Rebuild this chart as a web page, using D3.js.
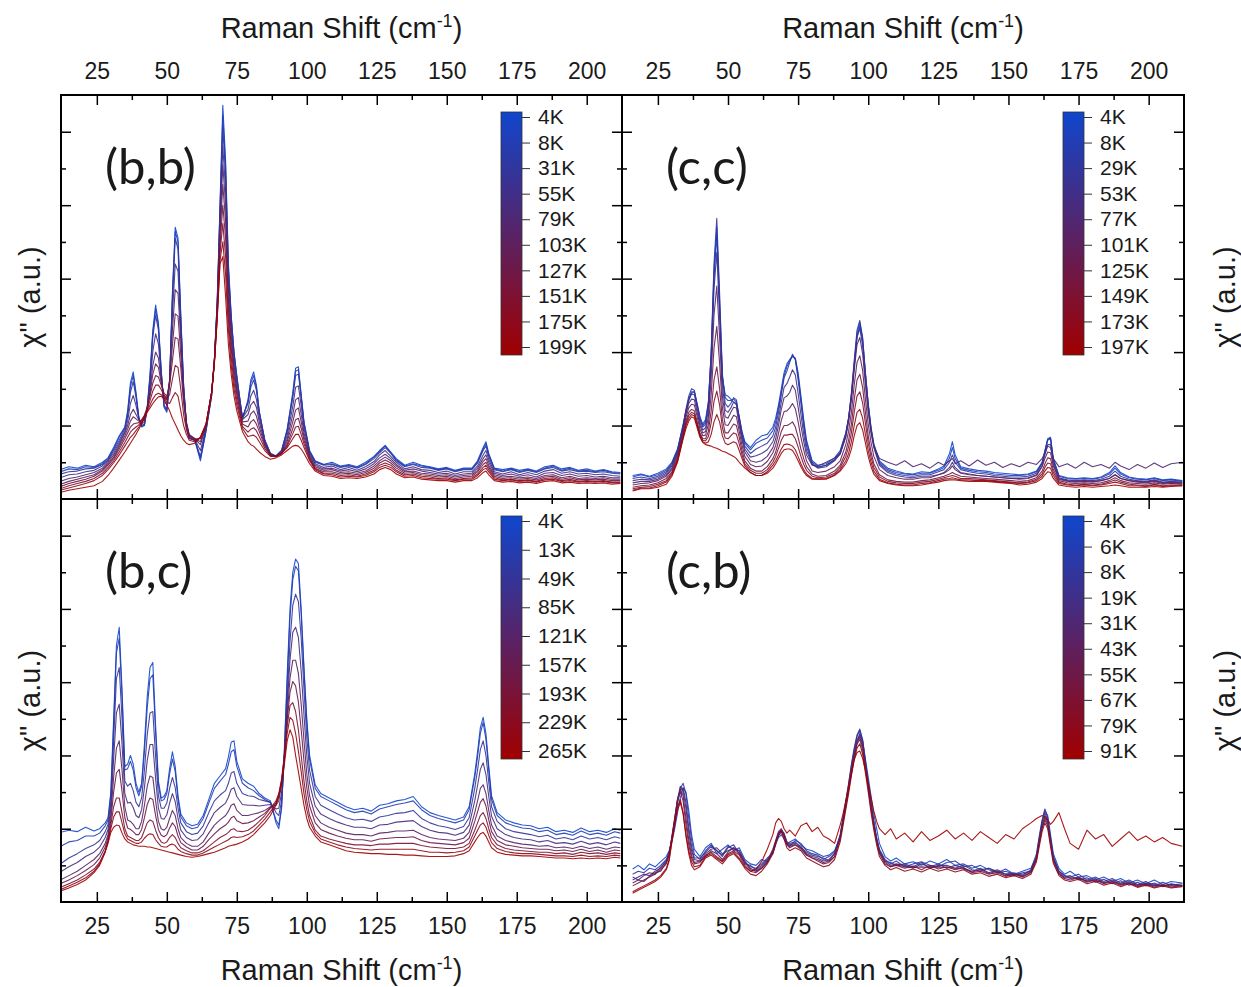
<!DOCTYPE html>
<html>
<head>
<meta charset="utf-8">
<script src="https://cdn.jsdelivr.net/npm/d3@7"></script>
<style>
  body { margin: 0; background: #fff; }
  text { font-family: "Liberation Sans", Arial, sans-serif; fill: #1a1a1a; }
</style>
</head>
<body>
<svg id="fig" width="1241" height="987"></svg>
<script>
// ---------- (b,b) spectra ----------
const shiftBB = [12,15,18,21,24,27,29,31,33,35,
  36,37,38,39,40,41,42,43,44,45,
  46,47,48,49,50,51,52,53,54,55,
  56,57,58,60,62,64,66,67,68,69,
  70,71,72,73,74,75,77,79,80,81,
  82,83,85,87,89,91,93,95,96,97,
  98,99,101,103,106,109,112,115,118,121,
  124,126,128,130,132,135,138,141,144,147,
  150,153,156,159,161,163,164,165,167,170,
  173,176,179,182,185,188,191,194,197,200,
  203,206,209,212];
const tempsBB = ["4K","8K","31K","55K","79K","103K","127K","151K","175K","199K"];
const legendBB = ["4K","8K","31K","55K","79K","103K","127K","151K","175K","199K"];
const bb4K = [0.40,0.44,0.42,0.46,0.44,0.50,0.56,0.70,0.86,0.98,
  1.20,1.58,1.73,1.45,1.12,0.98,1.00,1.25,1.70,2.30,
  2.64,2.40,1.75,1.25,1.18,1.60,2.80,3.70,3.55,2.50,
  1.55,1.00,0.82,0.80,0.52,0.92,1.40,1.90,2.70,4.00,
  5.36,4.60,3.20,2.50,2.00,1.68,1.08,1.35,1.62,1.73,
  1.55,1.20,0.80,0.62,0.58,0.66,0.95,1.45,1.78,1.80,
  1.42,1.05,0.66,0.52,0.47,0.50,0.45,0.47,0.44,0.50,
  0.58,0.66,0.73,0.64,0.55,0.46,0.50,0.46,0.44,0.41,
  0.43,0.39,0.42,0.42,0.52,0.70,0.78,0.62,0.42,0.40,
  0.42,0.39,0.41,0.38,0.44,0.46,0.41,0.43,0.39,0.41,
  0.38,0.40,0.37,0.36];
const bb8K = [0.37,0.41,0.40,0.44,0.43,0.48,0.55,0.68,0.84,0.97,
  1.17,1.53,1.68,1.42,1.10,0.99,1.01,1.24,1.67,2.26,
  2.58,2.36,1.74,1.27,1.20,1.60,2.76,3.64,3.50,2.46,
  1.54,1.01,0.83,0.80,0.55,0.93,1.41,1.89,2.68,3.96,
  5.22,4.52,3.15,2.48,1.99,1.67,1.10,1.33,1.58,1.68,
  1.52,1.19,0.80,0.62,0.58,0.66,0.94,1.42,1.74,1.76,
  1.40,1.04,0.65,0.51,0.47,0.48,0.44,0.46,0.43,0.48,
  0.57,0.65,0.72,0.63,0.53,0.45,0.48,0.45,0.43,0.40,
  0.42,0.38,0.41,0.41,0.50,0.68,0.75,0.60,0.41,0.38,
  0.41,0.37,0.40,0.37,0.42,0.45,0.39,0.42,0.38,0.39,
  0.37,0.39,0.36,0.35];
const bb31K = [0.34,0.37,0.38,0.41,0.42,0.47,0.53,0.66,0.80,0.95,
  1.12,1.45,1.60,1.38,1.10,1.00,1.02,1.22,1.62,2.20,
  2.50,2.30,1.72,1.28,1.22,1.62,2.70,3.55,3.40,2.40,
  1.52,1.02,0.84,0.80,0.58,0.95,1.42,1.88,2.65,3.90,
  5.05,4.40,3.10,2.45,1.98,1.65,1.12,1.30,1.52,1.62,
  1.48,1.18,0.80,0.62,0.59,0.66,0.92,1.38,1.68,1.70,
  1.38,1.02,0.64,0.50,0.46,0.47,0.43,0.45,0.42,0.47,
  0.55,0.63,0.70,0.62,0.52,0.44,0.47,0.43,0.42,0.39,
  0.41,0.37,0.40,0.40,0.49,0.66,0.72,0.58,0.40,0.37,
  0.40,0.36,0.39,0.36,0.41,0.43,0.38,0.40,0.37,0.38,
  0.36,0.37,0.35,0.34];
const bb55K = [0.29,0.33,0.34,0.37,0.39,0.45,0.52,0.63,0.77,0.92,
  1.06,1.30,1.41,1.27,1.09,1.02,1.05,1.22,1.55,2.01,
  2.25,2.11,1.67,1.33,1.28,1.62,2.50,3.20,3.10,2.28,
  1.48,1.04,0.86,0.81,0.66,0.96,1.43,1.89,2.62,3.80,
  4.80,4.20,2.98,2.35,1.90,1.58,1.10,1.22,1.40,1.48,
  1.36,1.11,0.78,0.61,0.58,0.64,0.87,1.26,1.52,1.54,
  1.27,0.96,0.62,0.48,0.43,0.45,0.40,0.43,0.39,0.44,
  0.51,0.60,0.66,0.58,0.50,0.41,0.44,0.40,0.39,0.36,
  0.38,0.34,0.37,0.37,0.45,0.60,0.66,0.54,0.37,0.34,
  0.37,0.33,0.36,0.33,0.38,0.40,0.35,0.37,0.34,0.35,
  0.33,0.34,0.32,0.31];
const bb79K = [0.24,0.28,0.30,0.33,0.36,0.42,0.50,0.60,0.74,0.90,
  1.00,1.15,1.22,1.15,1.08,1.05,1.08,1.22,1.48,1.82,
  2.00,1.92,1.62,1.38,1.35,1.62,2.30,2.85,2.80,2.15,
  1.45,1.05,0.88,0.82,0.74,0.98,1.45,1.90,2.60,3.70,
  4.55,4.00,2.85,2.25,1.82,1.52,1.08,1.15,1.28,1.33,
  1.25,1.05,0.76,0.60,0.58,0.63,0.82,1.15,1.35,1.38,
  1.15,0.90,0.60,0.46,0.41,0.42,0.38,0.40,0.37,0.41,
  0.48,0.56,0.61,0.55,0.47,0.39,0.41,0.38,0.36,0.34,
  0.35,0.32,0.34,0.35,0.42,0.55,0.60,0.50,0.35,0.32,
  0.34,0.31,0.33,0.30,0.35,0.36,0.32,0.34,0.31,0.32,
  0.30,0.31,0.29,0.29];
const bb103K = [0.20,0.24,0.27,0.30,0.33,0.40,0.48,0.57,0.71,0.86,
  0.95,1.06,1.12,1.09,1.06,1.06,1.11,1.23,1.44,1.70,
  1.84,1.79,1.58,1.41,1.37,1.58,2.09,2.52,2.49,1.96,
  1.38,1.02,0.87,0.82,0.78,0.99,1.45,1.89,2.58,3.58,
  4.28,3.78,2.72,2.15,1.75,1.47,1.05,1.06,1.16,1.20,
  1.13,0.98,0.74,0.60,0.58,0.62,0.78,1.05,1.21,1.24,
  1.05,0.85,0.58,0.44,0.39,0.40,0.36,0.37,0.35,0.38,
  0.45,0.52,0.57,0.52,0.45,0.37,0.38,0.35,0.34,0.32,
  0.33,0.30,0.32,0.33,0.39,0.51,0.55,0.46,0.33,0.30,
  0.31,0.29,0.30,0.28,0.32,0.33,0.29,0.31,0.28,0.29,
  0.28,0.29,0.27,0.27];
const bb127K = [0.17,0.21,0.24,0.27,0.31,0.38,0.46,0.55,0.68,0.82,
  0.90,0.98,1.02,1.03,1.04,1.08,1.14,1.25,1.40,1.58,
  1.68,1.66,1.55,1.44,1.40,1.55,1.88,2.20,2.18,1.78,
  1.30,1.00,0.86,0.82,0.82,1.00,1.45,1.88,2.55,3.45,
  4.00,3.55,2.60,2.05,1.68,1.42,1.02,0.98,1.05,1.08,
  1.02,0.92,0.72,0.60,0.58,0.62,0.74,0.96,1.08,1.10,
  0.96,0.80,0.56,0.42,0.37,0.37,0.34,0.35,0.33,0.36,
  0.42,0.49,0.53,0.49,0.42,0.35,0.36,0.33,0.32,0.30,
  0.31,0.28,0.30,0.31,0.37,0.47,0.50,0.43,0.31,0.28,
  0.29,0.27,0.28,0.26,0.30,0.31,0.27,0.29,0.26,0.27,
  0.26,0.27,0.25,0.25];
const bb151K = [0.14,0.18,0.21,0.24,0.28,0.35,0.43,0.52,0.64,0.77,
  0.84,0.91,0.95,0.98,1.01,1.06,1.13,1.22,1.34,1.47,
  1.55,1.55,1.49,1.41,1.36,1.42,1.63,1.82,1.79,1.49,
  1.15,0.94,0.83,0.80,0.83,1.01,1.45,1.86,2.50,3.35,
  3.75,3.30,2.45,1.93,1.59,1.35,0.99,0.91,0.95,0.97,
  0.93,0.85,0.69,0.59,0.58,0.62,0.72,0.89,0.98,0.99,
  0.88,0.75,0.54,0.41,0.35,0.35,0.32,0.33,0.31,0.34,
  0.39,0.46,0.49,0.46,0.39,0.33,0.34,0.31,0.30,0.28,
  0.29,0.26,0.28,0.29,0.34,0.43,0.46,0.40,0.29,0.26,
  0.27,0.25,0.26,0.24,0.28,0.29,0.25,0.27,0.24,0.25,
  0.24,0.25,0.23,0.23];
const bb175K = [0.12,0.15,0.18,0.21,0.25,0.32,0.40,0.49,0.60,0.72,
  0.78,0.84,0.88,0.93,0.98,1.04,1.12,1.20,1.28,1.36,
  1.42,1.44,1.42,1.38,1.32,1.30,1.38,1.45,1.40,1.20,
  1.00,0.88,0.80,0.78,0.84,1.02,1.45,1.85,2.45,3.25,
  3.50,3.05,2.30,1.82,1.50,1.28,0.96,0.85,0.86,0.87,
  0.84,0.78,0.66,0.58,0.58,0.62,0.70,0.82,0.88,0.88,
  0.80,0.70,0.52,0.40,0.34,0.33,0.30,0.31,0.30,0.32,
  0.37,0.43,0.46,0.43,0.37,0.31,0.32,0.29,0.28,0.27,
  0.27,0.25,0.27,0.27,0.32,0.40,0.42,0.37,0.27,0.25,
  0.26,0.24,0.25,0.23,0.26,0.27,0.24,0.25,0.23,0.24,
  0.23,0.24,0.22,0.22];
const bb199K = [0.09,0.12,0.14,0.16,0.18,0.24,0.32,0.42,0.53,0.64,
  0.70,0.76,0.82,0.88,0.95,1.02,1.10,1.18,1.24,1.30,
  1.35,1.39,1.40,1.36,1.28,1.20,1.10,1.02,0.94,0.86,
  0.80,0.76,0.74,0.76,0.84,1.02,1.45,1.85,2.45,3.20,
  3.30,2.75,2.10,1.70,1.40,1.20,0.92,0.78,0.74,0.72,
  0.68,0.64,0.58,0.54,0.56,0.60,0.66,0.72,0.73,0.72,
  0.68,0.62,0.48,0.38,0.32,0.31,0.28,0.29,0.28,0.30,
  0.34,0.40,0.43,0.40,0.34,0.29,0.30,0.27,0.26,0.25,
  0.25,0.23,0.25,0.25,0.29,0.36,0.38,0.33,0.25,0.23,
  0.24,0.22,0.23,0.21,0.24,0.25,0.22,0.23,0.21,0.22,
  0.21,0.22,0.20,0.21];

// ---------- (c,c) spectra ----------
const shiftCC = [16,19,22,25,28,30,32,34,35,36,
  37,38,39,40,41,42,43,44,45,46,
  47,48,49,50,51,52,53,54,55,56,
  58,60,62,64,66,67,68,69,70,71,
  72,73,74,75,76,77,78,80,82,85,
  88,90,92,93,94,95,96,97,98,99,
  100,101,102,104,107,110,113,116,119,122,
  125,127,129,130,131,133,136,139,142,145,
  148,151,154,157,160,162,163,164,165,166,
  168,171,174,177,180,183,186,188,190,193,
  196,199,202,205,208,212];
const tempsCC = ["4K","8K","29K","53K","77K","101K","125K","149K","173K","197K"];
const legendCC = ["4K","8K","29K","53K","77K","101K","125K","149K","173K","197K"];
const cc4K = [0.32,0.34,0.31,0.35,0.41,0.50,0.68,1.02,1.20,1.34,
  1.44,1.46,1.30,1.12,1.02,1.08,1.32,1.95,3.00,3.60,
  2.60,1.65,1.42,1.40,1.36,1.32,1.28,1.12,0.92,0.78,
  0.70,0.80,0.86,0.88,0.98,1.10,1.28,1.50,1.72,1.84,
  1.90,1.94,1.92,1.72,1.40,1.08,0.80,0.52,0.46,0.48,
  0.56,0.66,0.90,1.10,1.40,1.80,2.20,2.36,2.15,1.70,
  1.30,0.98,0.75,0.52,0.42,0.38,0.35,0.34,0.37,0.36,
  0.41,0.45,0.62,0.78,0.60,0.44,0.41,0.39,0.38,0.36,
  0.35,0.34,0.33,0.34,0.38,0.50,0.66,0.82,0.84,0.55,
  0.32,0.29,0.28,0.29,0.28,0.30,0.36,0.45,0.36,0.30,
  0.28,0.27,0.29,0.26,0.27,0.25];
const cc8K = [0.30,0.33,0.30,0.33,0.39,0.49,0.67,1.00,1.20,1.36,
  1.46,1.46,1.28,1.10,1.00,1.05,1.30,1.98,3.10,3.70,
  2.70,1.68,1.38,1.34,1.34,1.36,1.32,1.12,0.90,0.76,
  0.67,0.76,0.80,0.83,0.93,1.05,1.24,1.46,1.68,1.80,
  1.88,1.95,1.90,1.68,1.36,1.04,0.77,0.50,0.44,0.46,
  0.54,0.64,0.89,1.10,1.42,1.84,2.25,2.40,2.18,1.70,
  1.29,0.96,0.74,0.50,0.40,0.36,0.34,0.33,0.35,0.35,
  0.39,0.43,0.56,0.70,0.55,0.42,0.39,0.37,0.36,0.34,
  0.33,0.32,0.32,0.33,0.37,0.49,0.65,0.81,0.83,0.54,
  0.31,0.28,0.27,0.28,0.27,0.29,0.34,0.42,0.34,0.29,
  0.27,0.26,0.28,0.25,0.26,0.24];
const cc29K = [0.28,0.30,0.28,0.31,0.37,0.47,0.66,1.00,1.22,1.40,
  1.50,1.48,1.28,1.08,0.98,1.02,1.30,2.00,3.20,3.82,
  2.80,1.70,1.30,1.25,1.30,1.38,1.35,1.10,0.88,0.72,
  0.62,0.68,0.72,0.76,0.86,0.98,1.18,1.42,1.65,1.74,
  1.86,1.97,1.90,1.62,1.30,0.98,0.72,0.48,0.42,0.44,
  0.52,0.62,0.88,1.10,1.45,1.88,2.30,2.43,2.20,1.72,
  1.28,0.95,0.72,0.48,0.38,0.34,0.32,0.31,0.33,0.33,
  0.37,0.40,0.50,0.60,0.50,0.40,0.37,0.35,0.34,0.32,
  0.31,0.30,0.30,0.31,0.35,0.48,0.64,0.80,0.82,0.52,
  0.29,0.26,0.25,0.26,0.25,0.27,0.31,0.38,0.31,0.27,
  0.25,0.24,0.26,0.23,0.24,0.23];
const cc53K = [0.25,0.27,0.26,0.29,0.35,0.45,0.64,0.98,1.19,1.35,
  1.43,1.42,1.23,1.04,0.94,0.97,1.21,1.82,2.85,3.36,
  2.50,1.55,1.21,1.18,1.24,1.32,1.30,1.05,0.84,0.68,
  0.57,0.59,0.62,0.67,0.78,0.90,1.09,1.32,1.52,1.57,
  1.66,1.76,1.69,1.44,1.15,0.88,0.66,0.47,0.43,0.46,
  0.53,0.61,0.86,1.08,1.40,1.82,2.20,2.32,2.09,1.64,
  1.23,0.93,0.70,0.46,0.36,0.32,0.30,0.29,0.31,0.31,
  0.33,0.36,0.43,0.50,0.43,0.36,0.34,0.32,0.31,0.30,
  0.29,0.28,0.28,0.29,0.33,0.45,0.60,0.74,0.74,0.48,
  0.27,0.24,0.23,0.24,0.23,0.25,0.28,0.33,0.28,0.25,
  0.23,0.22,0.24,0.21,0.22,0.21];
const cc77K = [0.22,0.24,0.24,0.27,0.33,0.42,0.62,0.95,1.15,1.30,
  1.36,1.35,1.18,1.00,0.90,0.92,1.12,1.65,2.50,2.90,
  2.20,1.40,1.12,1.10,1.18,1.25,1.24,1.00,0.80,0.64,
  0.52,0.50,0.52,0.58,0.70,0.82,1.00,1.22,1.38,1.40,
  1.45,1.55,1.48,1.25,1.00,0.78,0.60,0.46,0.45,0.50,
  0.56,0.62,0.84,1.05,1.35,1.75,2.10,2.20,1.98,1.55,
  1.18,0.90,0.72,0.55,0.50,0.46,0.52,0.44,0.48,0.42,
  0.50,0.46,0.52,0.55,0.48,0.52,0.45,0.53,0.46,0.50,
  0.43,0.48,0.44,0.50,0.47,0.55,0.62,0.72,0.70,0.55,
  0.44,0.48,0.42,0.50,0.44,0.47,0.42,0.50,0.45,0.40,
  0.47,0.42,0.49,0.43,0.48,0.50];
const cc101K = [0.19,0.21,0.22,0.25,0.31,0.40,0.59,0.92,1.11,1.24,
  1.29,1.28,1.12,0.95,0.86,0.87,1.02,1.42,2.05,2.35,
  1.85,1.24,1.01,1.00,1.07,1.14,1.12,0.92,0.73,0.58,
  0.47,0.44,0.45,0.51,0.63,0.73,0.89,1.07,1.19,1.20,
  1.24,1.30,1.23,1.05,0.84,0.67,0.52,0.38,0.36,0.38,
  0.44,0.52,0.74,0.92,1.18,1.55,1.86,1.95,1.75,1.36,
  1.02,0.77,0.58,0.40,0.32,0.29,0.27,0.27,0.29,0.29,
  0.33,0.35,0.40,0.45,0.40,0.35,0.33,0.32,0.31,0.30,
  0.29,0.28,0.27,0.28,0.32,0.44,0.55,0.64,0.63,0.45,
  0.28,0.25,0.24,0.25,0.24,0.25,0.28,0.33,0.28,0.25,
  0.24,0.23,0.25,0.22,0.23,0.22];
const cc125K = [0.16,0.18,0.19,0.22,0.28,0.37,0.56,0.88,1.06,1.18,
  1.22,1.20,1.05,0.90,0.82,0.82,0.92,1.20,1.62,1.80,
  1.50,1.08,0.90,0.90,0.96,1.02,1.00,0.84,0.66,0.52,
  0.42,0.38,0.38,0.44,0.55,0.64,0.78,0.92,1.00,1.00,
  1.02,1.05,0.98,0.84,0.68,0.55,0.44,0.34,0.31,0.32,
  0.38,0.46,0.64,0.80,1.02,1.35,1.62,1.70,1.52,1.18,
  0.86,0.64,0.48,0.33,0.26,0.24,0.23,0.23,0.25,0.26,
  0.29,0.31,0.34,0.36,0.34,0.31,0.30,0.29,0.28,0.27,
  0.26,0.25,0.24,0.25,0.29,0.38,0.48,0.56,0.55,0.40,
  0.25,0.22,0.21,0.22,0.21,0.22,0.25,0.29,0.25,0.22,
  0.21,0.20,0.22,0.20,0.21,0.20];
const cc149K = [0.14,0.16,0.17,0.20,0.25,0.35,0.54,0.86,1.03,1.14,
  1.18,1.16,1.02,0.88,0.80,0.79,0.85,1.04,1.33,1.47,
  1.28,0.97,0.83,0.82,0.86,0.90,0.88,0.75,0.60,0.48,
  0.39,0.35,0.35,0.40,0.50,0.58,0.69,0.80,0.87,0.87,
  0.88,0.88,0.82,0.71,0.58,0.47,0.39,0.31,0.29,0.30,
  0.35,0.43,0.58,0.71,0.90,1.18,1.40,1.46,1.31,1.03,
  0.76,0.57,0.43,0.30,0.24,0.22,0.21,0.21,0.23,0.24,
  0.27,0.29,0.31,0.32,0.31,0.28,0.28,0.27,0.26,0.25,
  0.24,0.23,0.22,0.23,0.27,0.34,0.43,0.49,0.48,0.36,
  0.23,0.20,0.19,0.20,0.19,0.20,0.23,0.26,0.23,0.20,
  0.19,0.18,0.20,0.18,0.19,0.19];
const cc173K = [0.12,0.15,0.15,0.18,0.23,0.33,0.52,0.84,1.00,1.10,
  1.15,1.13,1.00,0.86,0.78,0.76,0.78,0.88,1.05,1.15,
  1.05,0.86,0.76,0.74,0.76,0.78,0.76,0.66,0.55,0.45,
  0.36,0.32,0.32,0.37,0.46,0.52,0.60,0.68,0.74,0.75,
  0.74,0.72,0.67,0.58,0.48,0.40,0.34,0.28,0.27,0.28,
  0.33,0.40,0.52,0.62,0.78,1.00,1.18,1.22,1.10,0.88,
  0.66,0.50,0.38,0.27,0.22,0.20,0.19,0.19,0.21,0.22,
  0.25,0.27,0.28,0.29,0.28,0.26,0.26,0.25,0.25,0.24,
  0.23,0.22,0.21,0.22,0.25,0.31,0.38,0.43,0.42,0.32,
  0.21,0.19,0.18,0.19,0.18,0.19,0.21,0.23,0.21,0.18,
  0.18,0.17,0.19,0.17,0.18,0.18];
const cc197K = [0.11,0.14,0.14,0.16,0.20,0.31,0.50,0.82,0.96,1.06,
  1.12,1.10,0.97,0.84,0.77,0.74,0.73,0.72,0.70,0.69,
  0.67,0.65,0.64,0.62,0.60,0.58,0.55,0.50,0.46,0.42,
  0.36,0.32,0.32,0.35,0.42,0.48,0.55,0.62,0.67,0.68,
  0.68,0.66,0.60,0.52,0.44,0.37,0.32,0.27,0.27,0.27,
  0.32,0.38,0.48,0.56,0.68,0.86,1.00,1.04,0.94,0.76,
  0.58,0.44,0.34,0.25,0.21,0.19,0.18,0.18,0.19,0.21,
  0.23,0.25,0.26,0.26,0.26,0.25,0.24,0.24,0.24,0.23,
  0.22,0.21,0.19,0.20,0.23,0.28,0.33,0.37,0.36,0.28,
  0.19,0.17,0.16,0.17,0.16,0.17,0.18,0.19,0.18,0.16,
  0.16,0.16,0.17,0.16,0.17,0.18];

// ---------- (b,c) spectra ----------
const shiftBC = [12,15,18,21,24,26,28,29,30,31,
  32,33,34,35,36,37,38,39,40,41,
  42,43,44,45,46,47,48,49,50,51,
  52,53,54,55,57,59,61,63,65,67,
  69,71,72,73,74,75,77,79,81,83,
  85,87,89,90,91,92,93,94,95,96,
  97,98,99,100,101,103,105,108,111,114,
  117,120,123,126,129,132,135,138,141,144,
  147,150,153,156,158,160,161,162,163,164,
  165,166,168,171,174,177,180,183,186,189,
  192,195,198,201,204,207,210,212];
const tempsBC = ["4K","13K","49K","85K","121K","157K","193K","229K","265K"];
const legendBC = ["4K","13K","49K","85K","121K","157K","193K","229K","265K"];
const bc4K = [0.95,0.98,0.96,1.02,0.97,1.00,1.08,1.15,1.50,2.50,
  3.50,3.75,2.90,1.85,1.88,2.00,1.88,1.62,1.50,1.62,
  2.15,2.80,3.20,3.27,2.40,1.65,1.42,1.44,1.52,1.82,
  2.05,1.85,1.45,1.20,1.08,1.04,1.06,1.18,1.40,1.62,
  1.72,1.82,1.98,2.18,2.20,1.92,1.68,1.62,1.58,1.48,
  1.42,1.38,1.08,1.00,1.28,2.10,3.10,4.00,4.50,4.68,
  4.62,4.00,3.20,2.50,2.00,1.60,1.48,1.42,1.36,1.30,
  1.26,1.28,1.24,1.32,1.34,1.38,1.40,1.44,1.30,1.22,
  1.18,1.15,1.12,1.16,1.30,1.75,2.05,2.38,2.52,2.30,
  1.86,1.45,1.22,1.12,1.08,1.05,1.04,1.00,1.02,0.96,
  0.98,0.95,1.01,0.96,0.98,0.95,1.00,0.98];
const bc13K = [0.76,0.82,0.84,0.90,0.90,0.94,1.04,1.12,1.45,2.40,
  3.40,3.60,2.80,1.80,1.82,1.92,1.80,1.56,1.45,1.58,
  2.05,2.65,3.05,3.10,2.30,1.60,1.38,1.40,1.48,1.75,
  1.95,1.78,1.40,1.16,1.04,1.00,1.02,1.14,1.35,1.55,
  1.65,1.74,1.88,2.05,2.08,1.85,1.62,1.56,1.52,1.45,
  1.40,1.36,1.12,1.05,1.30,2.05,3.00,3.88,4.40,4.58,
  4.52,3.92,3.15,2.45,1.95,1.55,1.44,1.38,1.32,1.26,
  1.22,1.24,1.20,1.27,1.30,1.33,1.35,1.38,1.26,1.18,
  1.14,1.11,1.08,1.12,1.26,1.70,1.98,2.30,2.45,2.22,
  1.80,1.40,1.18,1.08,1.04,1.01,1.00,0.96,0.98,0.92,
  0.94,0.91,0.97,0.92,0.94,0.91,0.96,0.94];
const bc49K = [0.52,0.60,0.66,0.73,0.78,0.84,0.96,1.06,1.36,2.20,
  3.05,3.20,2.50,1.65,1.58,1.62,1.52,1.36,1.30,1.42,
  1.80,2.28,2.58,2.60,1.98,1.45,1.28,1.28,1.35,1.55,
  1.70,1.56,1.28,1.08,0.96,0.92,0.94,1.04,1.22,1.38,
  1.46,1.52,1.62,1.76,1.78,1.62,1.48,1.45,1.44,1.40,
  1.38,1.36,1.22,1.18,1.38,1.95,2.78,3.55,4.05,4.20,
  4.10,3.60,2.90,2.25,1.80,1.44,1.32,1.26,1.20,1.15,
  1.12,1.13,1.10,1.16,1.18,1.21,1.22,1.25,1.14,1.08,
  1.04,1.02,0.99,1.03,1.15,1.55,1.80,2.08,2.20,2.00,
  1.64,1.30,1.10,1.00,0.96,0.94,0.92,0.89,0.91,0.86,
  0.88,0.85,0.90,0.86,0.88,0.85,0.89,0.87];
const bc85K = [0.41,0.48,0.54,0.62,0.68,0.75,0.88,0.99,1.28,1.95,
  2.58,2.70,2.15,1.48,1.35,1.36,1.29,1.18,1.15,1.26,
  1.56,1.93,2.15,2.15,1.68,1.28,1.14,1.13,1.19,1.35,
  1.48,1.37,1.14,0.98,0.88,0.84,0.85,0.93,1.08,1.22,
  1.29,1.35,1.43,1.54,1.56,1.44,1.33,1.32,1.32,1.31,
  1.32,1.33,1.27,1.28,1.49,1.98,2.67,3.30,3.68,3.75,
  3.61,3.15,2.55,2.00,1.62,1.31,1.20,1.14,1.09,1.05,
  1.02,1.02,1.00,1.05,1.06,1.09,1.10,1.11,1.03,0.98,
  0.95,0.94,0.91,0.95,1.05,1.38,1.59,1.81,1.90,1.74,
  1.44,1.17,1.00,0.92,0.88,0.86,0.85,0.82,0.84,0.80,
  0.81,0.79,0.83,0.79,0.81,0.78,0.82,0.80];
const bc121K = [0.30,0.36,0.42,0.50,0.58,0.66,0.80,0.92,1.20,1.70,
  2.10,2.20,1.80,1.30,1.12,1.10,1.06,1.00,1.00,1.10,
  1.32,1.58,1.72,1.70,1.38,1.10,1.00,0.98,1.02,1.14,
  1.25,1.18,1.00,0.88,0.80,0.76,0.76,0.82,0.94,1.05,
  1.12,1.18,1.24,1.32,1.34,1.25,1.18,1.18,1.20,1.22,
  1.25,1.30,1.32,1.38,1.60,2.00,2.55,3.05,3.30,3.30,
  3.12,2.70,2.20,1.75,1.45,1.18,1.08,1.02,0.98,0.94,
  0.92,0.92,0.90,0.94,0.95,0.97,0.97,0.98,0.92,0.88,
  0.86,0.85,0.84,0.87,0.95,1.22,1.38,1.55,1.60,1.48,
  1.25,1.05,0.90,0.84,0.81,0.79,0.78,0.76,0.77,0.74,
  0.75,0.73,0.76,0.73,0.75,0.72,0.75,0.74];
const bc157K = [0.25,0.30,0.36,0.43,0.51,0.60,0.75,0.88,1.12,1.50,
  1.76,1.81,1.51,1.15,1.01,0.99,0.96,0.92,0.92,0.99,
  1.15,1.33,1.42,1.40,1.18,0.99,0.91,0.89,0.92,1.01,
  1.08,1.03,0.90,0.81,0.75,0.71,0.71,0.76,0.85,0.93,
  1.00,1.05,1.09,1.15,1.17,1.11,1.07,1.08,1.11,1.16,
  1.21,1.29,1.35,1.43,1.64,2.00,2.48,2.86,3.01,2.95,
  2.73,2.35,1.92,1.56,1.31,1.08,0.99,0.94,0.90,0.87,
  0.85,0.85,0.83,0.86,0.87,0.88,0.88,0.89,0.84,0.81,
  0.80,0.79,0.78,0.81,0.87,1.10,1.23,1.36,1.41,1.31,
  1.12,0.96,0.84,0.78,0.76,0.74,0.73,0.72,0.72,0.70,
  0.71,0.69,0.72,0.69,0.71,0.68,0.71,0.70];
const bc193K = [0.20,0.25,0.30,0.37,0.45,0.54,0.70,0.84,1.05,1.30,
  1.42,1.42,1.22,1.00,0.90,0.88,0.86,0.84,0.84,0.88,
  0.98,1.08,1.12,1.10,0.98,0.88,0.82,0.80,0.82,0.88,
  0.92,0.88,0.80,0.74,0.70,0.67,0.67,0.70,0.76,0.82,
  0.88,0.92,0.95,0.99,1.00,0.97,0.96,0.98,1.03,1.10,
  1.18,1.28,1.38,1.48,1.68,2.00,2.40,2.68,2.72,2.60,
  2.35,2.00,1.65,1.38,1.18,0.98,0.90,0.86,0.83,0.80,
  0.78,0.78,0.77,0.79,0.79,0.80,0.80,0.80,0.77,0.75,
  0.74,0.73,0.73,0.75,0.80,0.98,1.08,1.18,1.22,1.14,
  1.00,0.88,0.78,0.73,0.71,0.70,0.69,0.68,0.68,0.66,
  0.67,0.65,0.68,0.66,0.67,0.65,0.67,0.66];
const bc229K = [0.17,0.22,0.27,0.33,0.42,0.52,0.69,0.82,1.00,1.16,
  1.23,1.23,1.08,0.93,0.86,0.84,0.82,0.80,0.80,0.82,
  0.87,0.91,0.93,0.92,0.85,0.80,0.76,0.75,0.75,0.78,
  0.79,0.77,0.72,0.69,0.66,0.64,0.64,0.67,0.71,0.75,
  0.79,0.83,0.85,0.88,0.89,0.88,0.89,0.92,0.97,1.05,
  1.13,1.23,1.35,1.46,1.65,1.94,2.30,2.52,2.48,2.30,
  2.06,1.78,1.48,1.26,1.10,0.94,0.86,0.82,0.78,0.75,
  0.73,0.72,0.71,0.72,0.72,0.72,0.72,0.72,0.70,0.68,
  0.68,0.67,0.68,0.70,0.75,0.90,0.98,1.05,1.08,1.02,
  0.91,0.81,0.73,0.69,0.67,0.66,0.66,0.65,0.64,0.63,
  0.63,0.62,0.64,0.62,0.63,0.62,0.64,0.63];
const bc265K = [0.15,0.19,0.24,0.30,0.40,0.50,0.68,0.80,0.95,1.02,
  1.05,1.04,0.94,0.86,0.82,0.80,0.78,0.77,0.76,0.76,
  0.76,0.75,0.75,0.74,0.73,0.72,0.71,0.70,0.69,0.68,
  0.67,0.66,0.65,0.64,0.62,0.61,0.62,0.64,0.66,0.68,
  0.71,0.74,0.76,0.77,0.78,0.79,0.82,0.86,0.92,1.00,
  1.08,1.18,1.32,1.45,1.62,1.88,2.20,2.35,2.25,2.00,
  1.78,1.55,1.32,1.14,1.02,0.90,0.82,0.78,0.74,0.70,
  0.68,0.67,0.66,0.66,0.65,0.65,0.64,0.64,0.63,0.62,
  0.62,0.62,0.63,0.66,0.70,0.82,0.88,0.93,0.95,0.90,
  0.82,0.74,0.68,0.65,0.64,0.63,0.63,0.62,0.61,0.60,
  0.60,0.59,0.60,0.59,0.60,0.59,0.61,0.60];

// ---------- (c,b) spectra ----------
const shiftCB = [16,18,20,22,24,26,28,29,30,31,
  32,33,34,35,36,37,38,40,42,44,
  46,48,50,52,54,56,58,60,62,64,
  66,67,68,69,70,71,72,74,76,78,
  80,82,84,86,88,90,91,92,93,94,
  95,96,97,98,99,100,101,102,103,104,
  106,108,110,113,116,119,122,125,128,131,
  134,137,140,143,146,149,152,155,158,160,
  161,162,163,164,165,166,168,170,172,175,
  178,181,184,187,190,193,196,199,202,205,
  208,212];
const tempsCB = ["4K","8K","19K","31K","43K","55K","79K","91K"];
const legendCB = ["4K","6K","8K","19K","31K","43K","55K","67K","79K","91K"];
const cb4K = [0.45,0.50,0.44,0.52,0.48,0.55,0.62,0.70,0.82,1.00,
  1.22,1.42,1.55,1.50,1.25,0.92,0.72,0.62,0.74,0.80,
  0.66,0.72,0.78,0.70,0.74,0.58,0.52,0.50,0.58,0.55,
  0.70,0.80,0.88,0.92,0.86,0.78,0.82,0.86,0.78,0.72,
  0.70,0.66,0.62,0.64,0.70,0.88,1.10,1.30,1.55,1.80,
  2.00,2.18,2.30,2.20,1.95,1.70,1.45,1.20,1.00,0.80,
  0.62,0.56,0.60,0.52,0.55,0.50,0.56,0.52,0.58,0.50,
  0.52,0.46,0.50,0.44,0.40,0.45,0.38,0.42,0.46,0.62,
  0.85,1.08,1.25,1.18,0.92,0.66,0.46,0.38,0.42,0.34,
  0.36,0.30,0.34,0.28,0.32,0.26,0.30,0.25,0.30,0.24,
  0.28,0.26];
const cb8K = [0.38,0.42,0.40,0.46,0.44,0.50,0.58,0.68,0.86,1.10,
  1.35,1.55,1.62,1.48,1.15,0.85,0.65,0.58,0.70,0.78,
  0.70,0.62,0.74,0.78,0.66,0.54,0.48,0.46,0.52,0.60,
  0.66,0.78,0.90,0.96,0.90,0.80,0.76,0.84,0.80,0.70,
  0.66,0.64,0.58,0.62,0.68,0.92,1.15,1.38,1.62,1.88,
  2.10,2.28,2.36,2.22,1.92,1.62,1.35,1.10,0.88,0.72,
  0.58,0.52,0.56,0.48,0.52,0.55,0.50,0.48,0.54,0.56,
  0.48,0.50,0.44,0.46,0.42,0.38,0.40,0.36,0.44,0.66,
  0.90,1.12,1.27,1.15,0.88,0.62,0.42,0.36,0.34,0.38,
  0.30,0.34,0.28,0.32,0.26,0.30,0.24,0.28,0.22,0.27,
  0.23,0.25];
const cb19K = [0.34,0.30,0.36,0.40,0.38,0.48,0.56,0.66,0.86,1.08,
  1.36,1.52,1.56,1.36,1.02,0.76,0.60,0.60,0.68,0.76,
  0.70,0.64,0.76,0.72,0.70,0.52,0.50,0.44,0.50,0.58,
  0.68,0.80,0.92,0.98,0.94,0.82,0.80,0.82,0.74,0.68,
  0.64,0.62,0.60,0.56,0.66,0.90,1.14,1.36,1.60,1.86,
  2.08,2.26,2.34,2.20,1.90,1.62,1.34,1.08,0.86,0.70,
  0.56,0.54,0.50,0.52,0.48,0.54,0.46,0.50,0.50,0.46,
  0.50,0.44,0.42,0.46,0.40,0.42,0.38,0.38,0.42,0.62,
  0.88,1.10,1.22,1.12,0.86,0.60,0.42,0.36,0.32,0.34,
  0.28,0.32,0.26,0.30,0.24,0.28,0.23,0.26,0.24,0.22,
  0.24,0.22];
const cb31K = [0.30,0.34,0.38,0.36,0.42,0.46,0.55,0.66,0.88,1.12,
  1.40,1.58,1.52,1.28,0.95,0.70,0.58,0.56,0.66,0.72,
  0.74,0.66,0.70,0.74,0.70,0.56,0.46,0.42,0.48,0.56,
  0.72,0.84,0.96,1.00,0.92,0.82,0.78,0.80,0.76,0.66,
  0.62,0.60,0.56,0.58,0.66,0.90,1.12,1.35,1.58,1.82,
  2.04,2.22,2.28,2.15,1.88,1.60,1.34,1.08,0.86,0.70,
  0.56,0.50,0.52,0.50,0.46,0.52,0.48,0.52,0.46,0.50,
  0.46,0.42,0.46,0.40,0.44,0.38,0.36,0.40,0.42,0.60,
  0.84,1.05,1.18,1.10,0.85,0.60,0.40,0.34,0.36,0.30,
  0.33,0.27,0.31,0.25,0.29,0.23,0.27,0.22,0.26,0.21,
  0.25,0.22];
const cb43K = [0.26,0.30,0.28,0.35,0.40,0.42,0.54,0.64,0.88,1.14,
  1.40,1.54,1.45,1.15,0.85,0.64,0.54,0.56,0.62,0.70,
  0.66,0.58,0.68,0.74,0.66,0.54,0.44,0.42,0.46,0.54,
  0.70,0.82,0.94,0.98,0.92,0.80,0.76,0.78,0.74,0.64,
  0.60,0.58,0.54,0.56,0.62,0.88,1.10,1.32,1.55,1.78,
  2.00,2.18,2.25,2.12,1.85,1.58,1.30,1.05,0.84,0.68,
  0.54,0.48,0.51,0.48,0.47,0.48,0.47,0.48,0.47,0.46,
  0.45,0.41,0.44,0.39,0.42,0.36,0.38,0.35,0.41,0.59,
  0.82,1.02,1.15,1.07,0.82,0.58,0.39,0.33,0.33,0.32,
  0.29,0.29,0.27,0.27,0.25,0.25,0.23,0.24,0.22,0.23,
  0.22,0.22];
const cb55K = [0.22,0.26,0.30,0.34,0.38,0.44,0.52,0.64,0.90,1.15,
  1.40,1.50,1.38,1.05,0.78,0.60,0.52,0.54,0.64,0.68,
  0.62,0.56,0.66,0.70,0.64,0.50,0.42,0.40,0.46,0.54,
  0.68,0.82,0.94,0.98,0.90,0.78,0.74,0.78,0.72,0.64,
  0.60,0.56,0.52,0.54,0.62,0.86,1.08,1.30,1.52,1.75,
  1.98,2.15,2.22,2.08,1.82,1.55,1.28,1.02,0.82,0.66,
  0.52,0.48,0.50,0.46,0.49,0.44,0.50,0.45,0.48,0.44,
  0.47,0.40,0.42,0.38,0.40,0.35,0.38,0.34,0.40,0.58,
  0.80,1.00,1.12,1.04,0.80,0.56,0.38,0.32,0.30,0.33,
  0.27,0.30,0.25,0.28,0.23,0.26,0.21,0.25,0.20,0.24,
  0.20,0.23];
const cb79K = [0.14,0.18,0.22,0.26,0.30,0.36,0.46,0.58,0.84,1.10,
  1.30,1.40,1.22,0.90,0.66,0.50,0.44,0.48,0.60,0.64,
  0.58,0.52,0.62,0.66,0.58,0.46,0.38,0.36,0.42,0.52,
  0.66,0.80,0.92,0.96,0.86,0.74,0.70,0.74,0.70,0.60,
  0.56,0.52,0.48,0.50,0.58,0.82,1.04,1.26,1.48,1.72,
  1.94,2.10,2.16,2.02,1.76,1.50,1.22,0.98,0.78,0.62,
  0.50,0.44,0.47,0.42,0.45,0.41,0.46,0.42,0.45,0.41,
  0.44,0.38,0.40,0.35,0.38,0.33,0.36,0.32,0.38,0.55,
  0.76,0.96,1.08,1.00,0.76,0.53,0.36,0.30,0.28,0.31,
  0.25,0.28,0.23,0.26,0.21,0.25,0.20,0.23,0.19,0.22,
  0.19,0.21];
const cb91K = [0.12,0.16,0.20,0.24,0.28,0.34,0.44,0.56,0.82,1.06,
  1.26,1.36,1.20,0.92,0.70,0.55,0.48,0.50,0.62,0.66,
  0.60,0.55,0.64,0.68,0.60,0.48,0.42,0.45,0.55,0.72,
  0.92,1.08,1.14,1.10,1.00,0.94,0.98,0.90,1.04,1.08,
  0.96,1.02,0.90,0.86,0.80,1.05,1.20,1.38,1.56,1.76,
  1.94,2.04,2.06,1.96,1.80,1.62,1.42,1.24,1.10,1.00,
  0.92,1.00,0.86,0.94,0.82,0.96,0.84,0.90,0.98,0.86,
  0.94,0.84,0.96,0.88,0.80,0.92,0.86,1.00,1.08,1.14,
  1.16,1.18,1.16,1.12,1.06,1.10,1.22,1.00,0.80,0.72,
  0.98,0.86,0.92,0.76,0.86,0.96,0.84,0.90,0.82,0.88,
  0.80,0.76];

// ---------- axis ticks ----------
const shiftMajor = [25,50,75,100,125,150,175,200];
const shiftMinor = [37.5,62.5,87.5,112.5,137.5,162.5,187.5];
const chiMajor = [1,2,3,4,5];
const chiMinor = [0.5,1.5,2.5,3.5,4.5];

// ---------- figure ----------
const panels = [
  { name: "(b,b)", col: 0, row: 0, shift: shiftBB, temps: tempsBB, legend: legendBB,
    spectra: [bb4K, bb8K, bb31K, bb55K, bb79K, bb103K, bb127K, bb151K, bb175K, bb199K] },
  { name: "(c,c)", col: 1, row: 0, shift: shiftCC, temps: tempsCC, legend: legendCC,
    spectra: [cc4K, cc8K, cc29K, cc53K, cc77K, cc101K, cc125K, cc149K, cc173K, cc197K] },
  { name: "(b,c)", col: 0, row: 1, shift: shiftBC, temps: tempsBC, legend: legendBC,
    spectra: [bc4K, bc13K, bc49K, bc85K, bc121K, bc157K, bc193K, bc229K, bc265K] },
  { name: "(c,b)", col: 1, row: 1, shift: shiftCB, temps: tempsCB, legend: legendCB,
    spectra: [cb4K, cb8K, cb19K, cb31K, cb43K, cb55K, cb79K, cb91K] }
];

const colX = [[61, 622], [622, 1184]];
const rowY = [[95, 499], [499, 902]];
const tempColor = d3.interpolateRgb("#0f46cd", "#a00000");

const svg = d3.select("#fig");
const defs = svg.append("defs");
const grad = defs.append("linearGradient").attr("id", "tgrad")
  .attr("x1", 0).attr("x2", 0).attr("y1", 0).attr("y2", 1);
d3.range(0, 1.0001, 0.1).forEach(t =>
  grad.append("stop").attr("offset", t).attr("stop-color", tempColor(t)));

panels.forEach((p, i) => {
  const [x0, x1] = colX[p.col];
  const [y0, y1] = rowY[p.row];
  const x = d3.scaleLinear().domain([12.2, 212.6]).range([x0, x1]);
  const y = d3.scaleLinear().domain([0, 5.5]).range([y1, y0]);
  const g = svg.append("g");

  defs.append("clipPath").attr("id", "clip" + i)
    .append("rect").attr("x", x0).attr("y", y0).attr("width", x1 - x0).attr("height", y1 - y0);

  // spectra, coolest first so the warm curves sit on top
  const line = d3.line().x((d, k) => x(p.shift[k])).y(d => y(d));
  g.append("g").attr("clip-path", `url(#clip${i})`)
    .selectAll("path").data(p.spectra).join("path")
    .attr("d", line)
    .attr("fill", "none")
    .attr("stroke", (d, k) => tempColor(p.legend.indexOf(p.temps[k]) / (p.legend.length - 1)))
    .attr("stroke-width", 1.1)
    .attr("stroke-opacity", 0.9)
    .attr("stroke-linejoin", "round");

  // inward ticks on all four sides
  const tickStyle = sel => {
    sel.select(".domain").remove();
    sel.selectAll(".tick line").attr("stroke", "#000").attr("stroke-width", 1.5);
    sel.selectAll(".tick text").style("font-size", "23px").attr("fill", "#1a1a1a");
  };
  const top = g.append("g").attr("transform", `translate(0,${y0})`);
  top.call(d3.axisTop(x).tickValues(shiftMajor).tickSize(-10).tickPadding(p.row === 0 ? 16 : 0)
    .tickFormat(p.row === 0 ? d3.format("d") : () => "")).call(tickStyle);
  top.append("g").call(d3.axisTop(x).tickValues(shiftMinor).tickSize(-5).tickFormat(() => "")).call(tickStyle);

  const bottom = g.append("g").attr("transform", `translate(0,${y1})`);
  bottom.call(d3.axisBottom(x).tickValues(shiftMajor).tickSize(-10).tickPadding(p.row === 1 ? 16 : 0)
    .tickFormat(p.row === 1 ? d3.format("d") : () => "")).call(tickStyle);
  bottom.append("g").call(d3.axisBottom(x).tickValues(shiftMinor).tickSize(-5).tickFormat(() => "")).call(tickStyle);

  const left = g.append("g").attr("transform", `translate(${x0},0)`);
  left.call(d3.axisLeft(y).tickValues(chiMajor).tickSize(-10).tickFormat(() => "")).call(tickStyle);
  left.append("g").call(d3.axisLeft(y).tickValues(chiMinor).tickSize(-5).tickFormat(() => "")).call(tickStyle);

  const right = g.append("g").attr("transform", `translate(${x1},0)`);
  right.call(d3.axisRight(y).tickValues(chiMajor).tickSize(-10).tickFormat(() => "")).call(tickStyle);
  right.append("g").call(d3.axisRight(y).tickValues(chiMinor).tickSize(-5).tickFormat(() => "")).call(tickStyle);

  // frame
  g.append("rect").attr("x", x0).attr("y", y0).attr("width", x1 - x0).attr("height", y1 - y0)
    .attr("fill", "none").attr("stroke", "#000").attr("stroke-width", 2);

  // panel label
  g.append("text").attr("x", x0 + 44).attr("y", y0 + 89)
    .style("font-family", "Lato, 'Open Sans', sans-serif").style("font-size", "49px")
    .text(p.name);

  // temperature colour bar
  const barX = x1 - 121, barY = y0 + 17, barW = 21, barH = 243;
  g.append("rect").attr("x", barX).attr("y", barY).attr("width", barW).attr("height", barH)
    .attr("fill", "url(#tgrad)").attr("stroke", "#333").attr("stroke-width", 0.8);
  const ly = d3.scalePoint().domain(p.legend).range([barY + 5, barY + barH - 8]);
  const lg = g.append("g").attr("transform", `translate(${barX + barW},0)`);
  lg.call(d3.axisRight(ly).tickSize(8).tickPadding(8)).call(sel => {
    sel.select(".domain").remove();
    sel.selectAll(".tick line").attr("stroke", "#333").attr("stroke-width", 1);
    sel.selectAll(".tick text").style("font-size", "21px").attr("fill", "#1a1a1a");
  });

  // axis titles
  const cx = (x0 + x1) / 2;
  const title = g.append("text").attr("x", cx).attr("y", p.row === 0 ? 38 : 980)
    .attr("text-anchor", "middle").style("font-size", "29px");
  title.append("tspan").text("Raman Shift (cm");
  title.append("tspan").attr("dy", -11).style("font-size", "18px").text("-1");
  title.append("tspan").attr("dy", 11).text(")");

  const cy = (y0 + y1) / 2;
  const yx = p.col === 0 ? 40 : 1235;
  g.append("text").attr("transform", `translate(${yx},${cy}) rotate(-90)`)
    .attr("text-anchor", "middle").style("font-size", "29px")
    .text("χ\" (a.u.)");
});
</script>
</body>
</html>
